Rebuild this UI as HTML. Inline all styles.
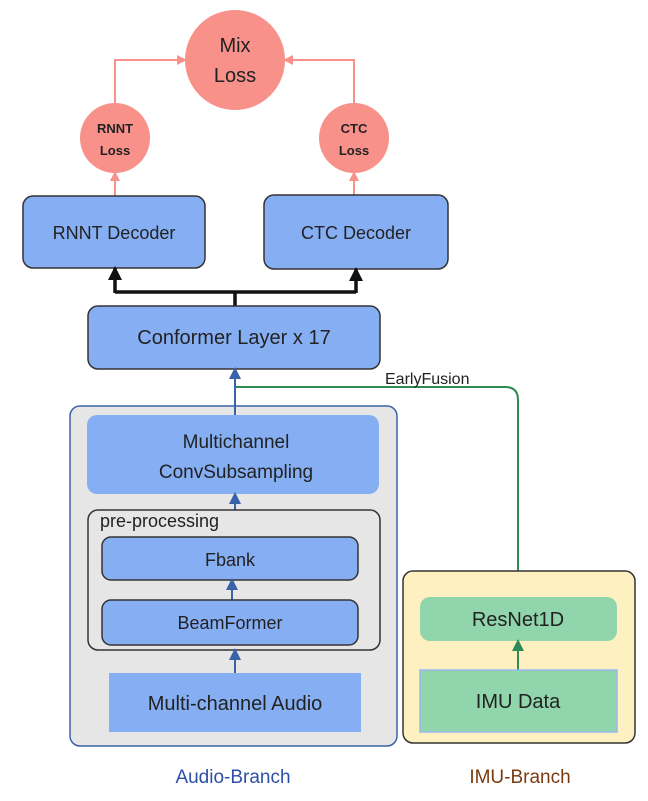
<!DOCTYPE html>
<html><head><meta charset="utf-8"><style>
html,body{margin:0;padding:0;background:#fff;}
svg{display:block;font-family:"Liberation Sans","DejaVu Sans",sans-serif;}
</style></head><body>
<svg width="648" height="801" viewBox="0 0 648 801" xmlns="http://www.w3.org/2000/svg">
<defs>
<marker id="ap" markerWidth="10" markerHeight="10" refX="8" refY="5" orient="auto" markerUnits="userSpaceOnUse"><path d="M0,0 L10,5 L0,10 z" fill="#f7918a"/></marker>
<marker id="ak" markerWidth="14" markerHeight="14" refX="12" refY="7" orient="auto" markerUnits="userSpaceOnUse"><path d="M0,0 L14,7 L0,14 z" fill="#111"/></marker>
<marker id="ab" markerWidth="12" markerHeight="12" refX="10" refY="6" orient="auto" markerUnits="userSpaceOnUse"><path d="M0,0 L12,6 L0,12 z" fill="#3a62a8"/></marker>
<marker id="ag" markerWidth="12" markerHeight="12" refX="10" refY="6" orient="auto" markerUnits="userSpaceOnUse"><path d="M0,0 L12,6 L0,12 z" fill="#2e8b57"/></marker>
</defs>
<!-- loss circles -->
<circle cx="235" cy="60" r="50" fill="#f7918a"/>
<text x="235" y="52" font-size="20" text-anchor="middle" fill="#222">Mix</text>
<text x="235" y="82" font-size="20" text-anchor="middle" fill="#222">Loss</text>
<circle cx="115" cy="138" r="35" fill="#f7918a"/>
<text x="115" y="133" font-size="13" font-weight="bold" text-anchor="middle" fill="#222">RNNT</text>
<text x="115" y="155" font-size="13" font-weight="bold" text-anchor="middle" fill="#222">Loss</text>
<circle cx="354" cy="138" r="35" fill="#f7918a"/>
<text x="354" y="133" font-size="13" font-weight="bold" text-anchor="middle" fill="#222">CTC</text>
<text x="354" y="155" font-size="13" font-weight="bold" text-anchor="middle" fill="#222">Loss</text>
<path d="M115,103 V60 H185" fill="none" stroke="#f7918a" stroke-width="2" marker-end="url(#ap)"/>
<path d="M354,103 V60 H285" fill="none" stroke="#f7918a" stroke-width="2" marker-end="url(#ap)"/>
<path d="M115,196 V173" stroke="#f7918a" stroke-width="2" marker-end="url(#ap)"/>
<path d="M354,196 V173" stroke="#f7918a" stroke-width="2" marker-end="url(#ap)"/>
<!-- decoders -->
<rect x="23" y="196" width="182" height="72" rx="10" fill="#86aef3" stroke="#333" stroke-width="1.5"/>
<text x="114" y="239" font-size="18" text-anchor="middle" fill="#222">RNNT Decoder</text>
<rect x="264" y="195" width="184" height="74" rx="10" fill="#86aef3" stroke="#333" stroke-width="1.5"/>
<text x="356" y="239" font-size="18" text-anchor="middle" fill="#222">CTC Decoder</text>
<path d="M235,306 V292 M115,292 H356" stroke="#111" stroke-width="3.5" fill="none"/>
<path d="M115,293 V268" stroke="#111" stroke-width="3.5" marker-end="url(#ak)"/>
<path d="M356,293 V269" stroke="#111" stroke-width="3.5" marker-end="url(#ak)"/>
<!-- conformer -->
<rect x="88" y="306" width="292" height="63" rx="10" fill="#86aef3" stroke="#333" stroke-width="1.5"/>
<text x="234" y="344" font-size="20" text-anchor="middle" fill="#222">Conformer Layer x 17</text>
<!-- audio branch -->
<rect x="70" y="406" width="327" height="340" rx="10" fill="#e6e6e6" stroke="#3a62a8" stroke-width="1.5"/>
<path d="M235,415 V369" stroke="#3a62a8" stroke-width="2" marker-end="url(#ab)"/>
<path d="M235,387 H505 Q518,387 518,400 V597" fill="none" stroke="#2e8b57" stroke-width="2"/>
<text x="385" y="384" font-size="16" fill="#222">EarlyFusion</text>
<rect x="87" y="415" width="292" height="79" rx="10" fill="#86aef3"/>
<text x="236" y="448" font-size="19" text-anchor="middle" fill="#222">Multichannel</text>
<text x="236" y="478" font-size="19" text-anchor="middle" fill="#222">ConvSubsampling</text>
<path d="M235,510 V494" stroke="#3a62a8" stroke-width="2" marker-end="url(#ab)"/>
<rect x="88" y="510" width="292" height="140" rx="10" fill="none" stroke="#333" stroke-width="1.5"/>
<text x="100" y="527" font-size="18" fill="#222">pre-processing</text>
<rect x="102" y="537" width="256" height="43" rx="9" fill="#86aef3" stroke="#333" stroke-width="1.5"/>
<text x="230" y="566" font-size="18" text-anchor="middle" fill="#222">Fbank</text>
<path d="M232,600 V580" stroke="#3a62a8" stroke-width="2" marker-end="url(#ab)"/>
<rect x="102" y="600" width="256" height="45" rx="9" fill="#86aef3" stroke="#333" stroke-width="1.5"/>
<text x="230" y="629" font-size="18" text-anchor="middle" fill="#222">BeamFormer</text>
<path d="M235,673 V650" stroke="#3a62a8" stroke-width="2" marker-end="url(#ab)"/>
<rect x="109" y="673" width="252" height="59" fill="#86aef3"/>
<text x="235" y="710" font-size="20" text-anchor="middle" fill="#222">Multi-channel Audio</text>
<!-- IMU branch -->
<rect x="403" y="571" width="232" height="172" rx="10" fill="#fff0c1" stroke="#333" stroke-width="1.5"/>
<rect x="420" y="597" width="197" height="44" rx="10" fill="#90d5ab"/>
<text x="518" y="626" font-size="20" text-anchor="middle" fill="#222">ResNet1D</text>
<path d="M518,670 V641" stroke="#2e8b57" stroke-width="2" marker-end="url(#ag)"/>
<rect x="420" y="670" width="197" height="62" fill="#90d5ab" stroke="#9ab8f0" stroke-width="1.5"/>
<text x="518" y="708" font-size="20" text-anchor="middle" fill="#222">IMU Data</text>
<!-- labels -->
<text x="233" y="783" font-size="19" text-anchor="middle" fill="#2e4fa6">Audio-Branch</text>
<text x="520" y="783" font-size="19" text-anchor="middle" fill="#7a3a10">IMU-Branch</text>
</svg>
</body></html>
